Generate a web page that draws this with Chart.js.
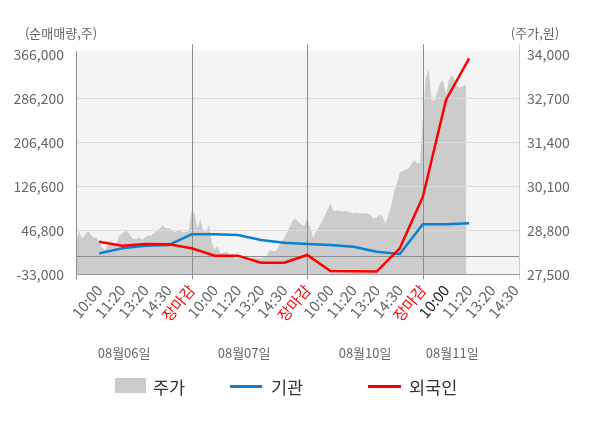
<!DOCTYPE html>
<html>
<head>
<meta charset="utf-8">
<script src="https://cdn.jsdelivr.net/npm/chart.js@4.4.1/dist/chart.umd.min.js"></script>
<style>
  html, body { margin: 0; padding: 0; background: #fff; }
  #wrap { position: relative; width: 600px; height: 428px; font-family: 'Noto Sans CJK KR', 'Noto Sans', sans-serif; }
  #chart { position: absolute; left: 0; top: 0; }
  .mark { position: absolute; }
  .lg { position: absolute; top: 376px; height: 21px; line-height: 21px; font-size: 17.5px; color: #333; }
</style>
</head>
<body>
<div id="wrap">
  <canvas id="chart" width="600" height="428"></canvas>
  <div class="mark" style="left:115px;top:378px;width:31px;height:15px;background:#ccc"></div>
  <div class="lg" style="left:153px">주가</div>
  <div class="mark" style="left:230px;top:385px;width:32px;height:3px;background:#0a80d0"></div>
  <div class="lg" style="left:271px">기관</div>
  <div class="mark" style="left:368px;top:385px;width:33px;height:3px;background:#ff0000"></div>
  <div class="lg" style="left:409px">외국인</div>
</div>
<script>
// x axis: one unit per tick label, each day = 5 units (09:00 ... 장마감)
const tickLabels = ['', '10:00', '11:20', '13:20', '14:30', '장마감',
  '10:00', '11:20', '13:20', '14:30', '장마감',
  '10:00', '11:20', '13:20', '14:30', '장마감',
  '10:00', '11:20', '13:20', '14:30'];
const xMax = 19.2;
const dayBreaks = [5, 10, 15];
const dateLabels = ['08월06일', '08월07일', '08월10일', '08월11일'];
const dateLabelPos = [2.08, 7.27, 12.5, 16.27];
const currentTick = 16;

const leftTicks = [-33000, 46800, 126600, 206400, 286200, 366000];
const rightTicks = [27500, 28800, 30100, 31400, 32700, 34000];

// 주가 (price), sampled every 1/8 tick
const priceStep = 0.125;
const priceValues = [
  28420, 28780, 28560, 28640, 28780, 28690, 28580, 28590, 28460, 28290,
  28220, 28370, 28385, 28385, 28415, 28640, 28710, 28790, 28740, 28610,
  28540, 28540, 28580, 28520, 28600, 28650, 28650, 28710, 28790, 28860,
  28940, 28860, 28860, 28820, 28740, 28780, 28780, 28740, 28740, 28780,
  29400, 29300, 28860, 29130, 28780, 28740, 28980, 28415, 28220, 28340,
  28120, 28140, 28170, 28100, 28030, 27970, 27970, 28030, 27970, 27970,
  27980, 28000, 28000, 27990, 27970, 28010, 28040, 28220, 28180, 28170,
  28290, 28460, 28560, 28740, 28910, 29100, 29150, 29035, 28980, 28930,
  29200, 28880, 28580, 28760, 28900, 29055, 29220, 29400, 29600, 29380,
  29370, 29390, 29350, 29370, 29350, 29330, 29300, 29320, 29300, 29290,
  29310, 29300, 29230, 29150, 29180, 29250, 29220, 29000, 29230, 29500,
  29910, 30190, 30510, 30560, 30580, 30630, 30760, 30880, 30780, 30780,
  32100, 33290, 33590, 32650, 32630, 32900, 33160, 33240, 32800, 33240,
  33390, 33240, 33040, 33020, 33060, 33120
];

// 순매매량 (cumulative net volume) at tick labels 1..17
const instValues = [5000, 14100, 18900, 20100, 39500, 39500, 38300, 29200, 24400,
  22000, 20100, 17100, 8000, 3800, 57900, 57600, 59700];
const foreignValues = [26200, 18900, 22000, 21300, 14100, 800, 800, -11900, -11900,
  2000, -27000, -27600, -28000, 14100, 107800, 283100, 358700];

const FONT = "'Noto Sans CJK KR', 'Noto Sans', sans-serif";

const decor = {
  id: 'decor',
  beforeDraw(chart) {
    const {ctx, chartArea: a} = chart;
    ctx.save();
    ctx.fillStyle = '#f4f4f4';
    ctx.fillRect(a.left, a.top - 3, a.right - a.left, a.bottom - a.top + 3);
    ctx.restore();
  },
  afterDatasetDraw(chart, args) {
    if (args.index !== 0) return;
    const {ctx, chartArea: a, scales} = chart;
    ctx.save();
    ctx.lineWidth = 1;
    ctx.strokeStyle = '#dcdcdc';
    leftTicks.slice(1, -1).forEach(v => {
      const y = Math.round(scales.y.getPixelForValue(v)) + 0.5;
      ctx.beginPath(); ctx.moveTo(a.left, y); ctx.lineTo(a.right, y); ctx.stroke();
    });
    ctx.strokeStyle = '#8c8c8c';
    const y0 = Math.round(scales.y.getPixelForValue(0)) + 0.5;
    ctx.beginPath(); ctx.moveTo(a.left, y0); ctx.lineTo(a.right, y0); ctx.stroke();
    dayBreaks.forEach(v => {
      const x = Math.round(scales.x.getPixelForValue(v)) + 0.5;
      ctx.beginPath(); ctx.moveTo(x, a.top - 10); ctx.lineTo(x, a.bottom + 5); ctx.stroke();
    });
    ctx.restore();
  },
  afterDraw(chart) {
    const {ctx, chartArea: a, scales} = chart;
    ctx.save();
    ctx.lineWidth = 1;
    const L = Math.round(a.left) + 0.5, R = Math.round(a.right) - 0.5, B = Math.round(a.bottom) + 0.5;
    ctx.strokeStyle = '#ccc';
    ctx.beginPath(); ctx.moveTo(R, a.top - 10); ctx.lineTo(R, B + 5); ctx.stroke();
    ctx.strokeStyle = '#8c8c8c';
    ctx.beginPath(); ctx.moveTo(L, a.top - 3); ctx.lineTo(L, B + 5); ctx.stroke();
    ctx.strokeStyle = '#9a9a9a';
    ctx.beginPath(); ctx.moveTo(a.left, B); ctx.lineTo(a.right, B); ctx.stroke();

    ctx.fillStyle = '#666';
    ctx.font = '13px ' + FONT;
    ctx.textBaseline = 'middle';
    ctx.textAlign = 'center';
    ctx.fillText('(순매매량,주)', 61, 33);
    ctx.fillText('(주가,원)', 535, 33);
    dateLabels.forEach((t, i) => {
      ctx.fillText(t, scales.x.getPixelForValue(dateLabelPos[i]), 353);
    });
    ctx.restore();
  }
};

new Chart(document.getElementById('chart'), {
  type: 'line',
  data: {
    datasets: [{
      label: '주가',
      data: priceValues.map((v, i) => ({x: i * priceStep, y: v})),
      yAxisID: 'y1',
      borderWidth: 0,
      backgroundColor: '#cccccc',
      fill: 'start',
      pointRadius: 0,
      order: 10
    }, {
      label: '기관',
      data: instValues.map((v, i) => ({x: i + 1, y: v})),
      yAxisID: 'y',
      borderColor: '#0a80d0',
      borderWidth: 2.5,
      pointRadius: 0,
      tension: 0,
      order: 2
    }, {
      label: '외국인',
      data: foreignValues.map((v, i) => ({x: i + 1, y: v})),
      yAxisID: 'y',
      borderColor: '#ff0000',
      borderWidth: 2.5,
      pointRadius: 0,
      tension: 0,
      order: 1
    }]
  },
  options: {
    responsive: false,
    animation: false,
    layout: { padding: { top: 54.3, left: 0, right: 0, bottom: 0 } },
    plugins: { legend: { display: false }, tooltip: { enabled: false } },
    scales: {
      x: {
        type: 'linear',
        min: 0,
        max: xMax,
        afterBuildTicks: s => { s.ticks = tickLabels.map((_, i) => ({value: i})); },
        afterFit: s => { s.height = 153.7; },
        grid: { display: false, drawTicks: false },
        border: { display: false },
        ticks: {
          autoSkip: false,
          minRotation: 50,
          maxRotation: 50,
          padding: 7,
          font: { family: FONT, size: 15 },
          color: c => tickLabels[c.index] === '장마감' ? '#ff0000' : (c.index === currentTick ? '#222' : '#666'),
          callback: v => tickLabels[v] || ''
        }
      },
      y: {
        position: 'left',
        min: leftTicks[0],
        max: leftTicks[leftTicks.length - 1],
        afterBuildTicks: s => { s.ticks = leftTicks.map(v => ({value: v})); },
        afterFit: s => { s.width = 76; },
        grid: { display: false, drawTicks: false },
        border: { display: false },
        ticks: {
          padding: 12,
          font: { family: FONT, size: 14 },
          color: '#666',
          callback: v => v.toLocaleString('en-US')
        }
      },
      y1: {
        position: 'right',
        min: rightTicks[0],
        max: rightTicks[rightTicks.length - 1],
        afterBuildTicks: s => { s.ticks = rightTicks.map(v => ({value: v})); },
        afterFit: s => { s.width = 80; },
        grid: { display: false, drawTicks: false },
        border: { display: false },
        ticks: {
          padding: 7,
          font: { family: FONT, size: 14 },
          color: '#666',
          callback: v => v.toLocaleString('en-US')
        }
      }
    }
  },
  plugins: [decor]
});
</script>
</body>
</html>
